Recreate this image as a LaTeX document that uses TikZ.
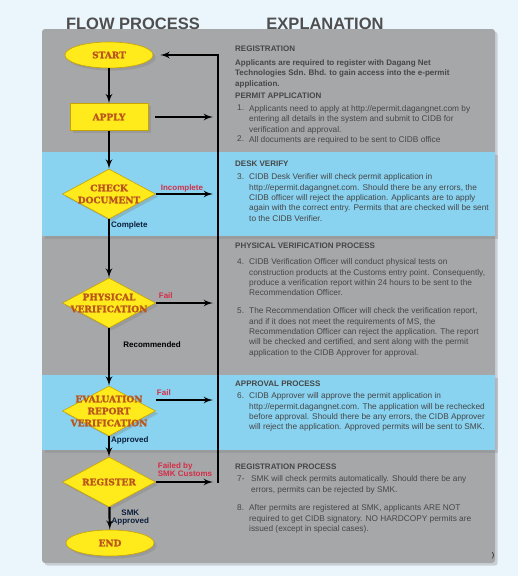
\documentclass[tikz,border=0pt]{standalone}
\usepackage{fontspec}
\setmainfont{Liberation Sans}
\setsansfont{Liberation Sans}
\newfontfamily\flowfamily{DejaVu Serif}[BoldFeatures={FakeBold=1.5}]
\usetikzlibrary{arrows}
\usetikzlibrary{shapes.geometric}
\usetikzlibrary{shadows}
\definecolor{mback}{HTML}{EBF5FC}
\definecolor{mgray}{HTML}{A6A7A9}
\definecolor{mblue}{HTML}{89D3F1}
\definecolor{myellow}{HTML}{FFEA1C}
\definecolor{mgold}{HTML}{C9A400}
\definecolor{mrust}{HTML}{BA561C}
\definecolor{mtext}{HTML}{464646}
\definecolor{mhead}{HTML}{4F4F4F}
\definecolor{mred}{HTML}{D42E48}
\definecolor{mnavy}{HTML}{0B1E3B}
\newcommand{\expfont}{\fontsize{8.3}{10.4}\selectfont}
\newcommand{\flowfont}{\flowfamily\bfseries\fontsize{9}{12}\selectfont}
\tikzset{flow/.style = {->, >=latex', line width=2.2pt}}
\tikzset{terminal/.style = {ellipse, fill=myellow, draw=mgold, line width=0.6pt,
                            minimum width=88pt, minimum height=26pt, inner sep=0,
                            font=\flowfont, text=mrust, drop shadow={opacity=0.35}}}
\tikzset{process/.style = {rectangle, fill=myellow, draw=mgold, line width=0.6pt,
                           minimum width=78pt, minimum height=27pt, inner sep=0,
                           font=\flowfont, text=mrust, drop shadow={opacity=0.35}}}
\tikzset{decision/.style = {diamond, fill=myellow, draw=mgold, line width=0.6pt,
                            minimum width=93pt, minimum height=50pt, inner sep=0,
                            drop shadow={opacity=0.35}}}
\tikzset{flowtext/.style = {align=center, inner sep=0, font=\flowfont, text=mrust}}
\tikzset{heading/.style = {anchor=north west, inner sep=0, font=\fontsize{8}{10.4}\selectfont\bfseries, text=mtext}}
\tikzset{expl/.style = {anchor=north west, inner sep=0, align=left, font=\expfont, text=mtext}}
\tikzset{num/.style = {anchor=north west, inner sep=0, font=\expfont, text=mtext}}
\tikzset{nolabel/.style = {font=\fontsize{8}{9}\selectfont\bfseries, text=mred, inner sep=1pt}}
\tikzset{yeslabel/.style = {font=\fontsize{8}{9}\selectfont\bfseries, text=mnavy, inner sep=1pt}}

\begin{document}
\begin{tikzpicture}[x=1pt, y=-1pt]
      \useasboundingbox [fill=mback] (0, 0) rectangle (518, 576);

      % panel and bands
      \fill [mgray, rounded corners=3pt, drop shadow={opacity=0.3}] (42, 29) rectangle (495, 563);
      \fill [mblue, drop shadow={opacity=0.3}] (42, 152) rectangle (495, 236);
      \fill [mblue, drop shadow={opacity=0.3}] (42, 375) rectangle (495, 450);

      \node [anchor=base, inner sep=0, font=\bfseries\fontsize{16.5}{18}\selectfont, text=mhead] (flowhead) at (133, 29) {FLOW PROCESS};
      \node [anchor=base, inner sep=0, font=\bfseries\fontsize{16.5}{18}\selectfont, text=mhead] (explhead) at (325, 29) {EXPLANATION};

      % flow chart
      \node [terminal] (start) at (109, 55) {START};
      \node [process] (apply) at (109, 117) {APPLY};
      \node [decision] (check) at (109, 194) {};
      \node [flowtext] at (check) {CHECK\\DOCUMENT};
      \node [decision] (phys) at (109, 303) {};
      \node [flowtext] at (phys) {PHYSICAL\\VERIFICATION};
      \node [decision] (eval) at (109, 411) {};
      \node [flowtext] at (eval) {EVALUATION\\REPORT\\VERIFICATION};
      \node [decision] (reg) at (109, 482) {};
      \node [flowtext] at (reg) {REGISTER};
      \node [terminal] (end) at (110, 543) {END};

      \coordinate (retbot) at (218, 483);

      \draw [flow] (start) -- (apply);
      \draw [flow] (apply) -- (check);
      \draw [flow] (check) -- (phys) node [yeslabel, pos=0.1, right] {Complete};
      \draw [flow] (phys) -- (eval) node [pos=0.29, right, xshift=10pt, text=black, font=\fontsize{8}{9}\selectfont\bfseries] {Recommended};
      \draw [flow] (eval) -- (reg) node [yeslabel, pos=0.2, right] {Approved};
      \draw [flow] (reg) -- (end) node [yeslabel, pos=0.45, right, align=center] {SMK\\[-1pt]Approved};

      \draw [flow, shorten <=7pt, shorten >=5pt] (apply.east) -- (apply.east -| retbot);
      \draw [flow, shorten >=5pt] (check.east) -- (check.east -| retbot)
            node [nolabel, pos=0.42, above] {Incomplete};
      \draw [flow, shorten >=5pt] (phys.east) -- (phys.east -| retbot)
            node [nolabel, pos=0.16, above, yshift=2pt] {Fail};
      \draw [flow, shorten >=5pt] ([yshift=11pt]eval.east) -- ([yshift=11pt]eval.east -| retbot)
            node [nolabel, pos=0.13, above, yshift=2pt] {Fail};
      \draw [flow, shorten >=5pt] (reg.east) -- (reg.east -| retbot)
            node [nolabel, pos=0, anchor=south west, align=left, yshift=3pt] {Failed by\\[-1pt]SMK Customs};
      \draw [flow, shorten >=7pt] (retbot) |- (start.east);

      % explanation
      \node [heading] (reghead) at (235, 46) {REGISTRATION};
      \node [expl, font=\fontsize{8}{10.4}\selectfont\bfseries] (regtext) at (235, 59.5) {Applicants are required to register with Dagang Net\\Technologies Sdn. Bhd. to gain access into the e-permit\\application.};
      \node [heading] (permhead) at (235, 93) {PERMIT APPLICATION};
      \node [num] (num1) at (237, 105) {1.};
      \node [expl] (item1) at (249, 105) {Applicants need to apply at http://epermit.dagangnet.com by\\entering all details in the system and submit to CIDB for\\verification and approval.};
      \node [num] (num2) at (237, 136) {2.};
      \node [expl] (item2) at (249, 136) {All documents are required to be sent to CIDB office};

      \node [heading] (deskhead) at (235, 161) {DESK VERIFY};
      \node [num] (num3) at (237, 173.5) {3.};
      \node [expl] (item3) at (249, 173.5) {CIDB Desk Verifier will check permit application in\\http://epermit.dagangnet.com. Should there be any errors, the\\CIDB officer will reject the application. Applicants are to apply\\again with the correct entry. Permits that are checked will be sent\\to the CIDB Verifier.};

      \node [heading] (physhead) at (235, 243) {PHYSICAL VERIFICATION PROCESS};
      \node [num] (num4) at (237, 258.5) {4.};
      \node [expl] (item4) at (249, 258.5) {CIDB Verification Officer will conduct physical tests on\\construction products at the Customs entry point. Consequently,\\produce a verification report within 24 hours to be sent to the\\Recommendation Officer.};
      \node [num] (num5) at (237, 307.5) {5.};
      \node [expl] (item5) at (249, 307.5) {The Recommendation Officer will check the verification report,\\and if it does not meet the requirements of MS, the\\Recommendation Officer can reject the application. The report\\will be checked and certified, and sent along with the permit\\application to the CIDB Approver for approval.};

      \node [heading] (apprhead) at (235, 381) {APPROVAL PROCESS};
      \node [num] (num6) at (237, 392.5) {6.};
      \node [expl] (item6) at (249, 392.5) {CIDB Approver will approve the permit application in\\http://epermit.dagangnet.com. The application will be rechecked\\before approval. Should there be any errors, the CIDB Approver\\will reject the application. Approved permits will be sent to SMK.};

      \node [heading] (smkhead) at (235, 464) {REGISTRATION PROCESS};
      \node [num] (num7) at (237, 475.5) {7-};
      \node [expl] (item7) at (251, 475.5) {SMK will check permits automatically. Should there be any\\errors, permits can be rejected by SMK.};
      \node [num] (num8) at (237, 504.5) {8.};
      \node [expl] (item8) at (249, 504.5) {After permits are registered at SMK, applicants ARE NOT\\required to get CIDB signatory. NO HARDCOPY permits are\\issued (except in special cases).};

      \node [inner sep=0, font=\fontsize{7}{8}\selectfont] (stray) at (493, 556) {)};
    \end{tikzpicture}
\end{document}
